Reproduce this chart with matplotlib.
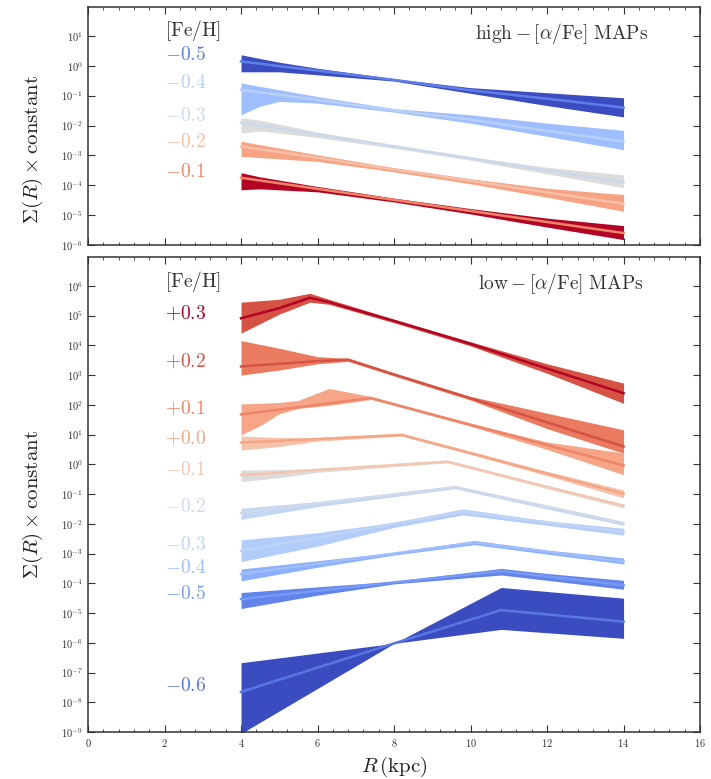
import numpy as np
import matplotlib
matplotlib.use("Agg")
import matplotlib.pyplot as plt
from matplotlib.ticker import AutoMinorLocator, FuncFormatter, MultipleLocator

plt.rcParams["mathtext.fontset"] = "cm"
plt.rcParams["axes.unicode_minus"] = False

# ---- high-[a/Fe] MAPs (log10 of surface density x constant) ----
high_feh = ["-0.5", "-0.4", "-0.3", "-0.2", "-0.1"]
high_R = [
    [4, 5, 6, 8, 10, 12, 14],
    [4, 4.5, 5, 6, 8, 10, 12, 14],
    [4, 4.5, 6, 8, 10, 12, 14],
    [4, 6, 8, 10, 12, 14],
    [4, 4.5, 6, 8, 10, 12, 14],
]
high_med = [
    [0.15, -0.01, -0.16, -0.47, -0.82, -1.10, -1.40],
    [-0.80, -0.89, -0.97, -1.14, -1.49, -1.80, -2.18, -2.53],
    [-1.90, -2.00, -2.30, -2.70, -3.10, -3.50, -3.90],
    [-2.70, -3.08, -3.47, -3.85, -4.24, -4.62],
    [-3.75, -3.84, -4.12, -4.49, -4.86, -5.23, -5.60],
]
high_hi = [
    [0.37, 0.12, -0.08, -0.43, -0.73, -0.90, -1.07],
    [-0.57, -0.69, -0.80, -1.03, -1.43, -1.64, -1.92, -2.16],
    [-1.74, -1.82, -2.22, -2.64, -3.04, -3.40, -3.65],
    [-2.53, -2.98, -3.41, -3.78, -4.10, -4.31],
    [-3.58, -3.72, -4.04, -4.43, -4.78, -5.10, -5.35],
]
high_lo = [
    [-0.20, -0.20, -0.30, -0.51, -0.92, -1.33, -1.71],
    [-1.64, -1.35, -1.19, -1.25, -1.55, -1.92, -2.36, -2.81],
    [-2.25, -2.18, -2.40, -2.76, -3.16, -3.62, -4.08],
    [-3.03, -3.20, -3.55, -3.95, -4.40, -4.87],
    [-4.15, -4.12, -4.22, -4.56, -4.96, -5.40, -5.82],
]
high_label_y = [0.37, -0.57, -1.67, -2.54, -3.55]

# ---- low-[a/Fe] MAPs ----
low_feh = ["+0.3", "+0.2", "+0.1", "+0.0", "-0.1", "-0.2", "-0.3", "-0.4", "-0.5", "-0.6"]
low_R = [
    [4, 5, 5.8, 6.3, 8, 10, 12, 14],
    [4, 5, 6, 6.8, 8, 10, 12, 14],
    [4, 4.5, 5, 5.5, 6.3, 7.4, 8, 10, 12, 14],
    [4, 5, 6, 8.2, 10, 12, 14],
    [4, 5, 6, 9.4, 12, 14],
    [4, 6, 9.6, 12, 14],
    [4, 6, 8, 9.8, 12, 14],
    [4, 6, 8, 10.1, 12, 14],
    [4, 6, 8, 10.8, 12, 14],
    [4, 8, 10.8, 14],
]
low_med = [
    [4.91, 5.25, 5.60, 5.45, 4.82, 4.05, 3.22, 2.39],
    [3.29, 3.38, 3.47, 3.52, 3.02, 2.22, 1.41, 0.60],
    [1.68, 1.76, 1.84, 1.92, 2.05, 2.23, 2.02, 1.33, 0.65, -0.04],
    [0.73, 0.79, 0.85, 0.99, 0.38, -0.31, -0.99],
    [-0.36, -0.28, -0.19, 0.09, -0.76, -1.39],
    [-1.63, -1.32, -0.77, -1.43, -1.98],
    [-2.91, -2.46, -2.00, -1.60, -1.95, -2.26],
    [-3.69, -3.34, -3.00, -2.63, -2.94, -3.27],
    [-4.53, -4.25, -3.97, -3.59, -3.77, -4.06],
    [-7.65, -6.02, -4.90, -5.29],
]
low_hi = [
    [5.45, 5.55, 5.75, 5.55, 4.88, 4.12, 3.38, 2.73],
    [4.16, 3.90, 3.62, 3.56, 3.07, 2.28, 1.72, 1.16],
    [2.03, 2.05, 2.08, 2.15, 2.55, 2.28, 2.06, 1.38, 0.75, 0.38],
    [0.95, 0.90, 0.90, 1.03, 0.43, -0.24, -0.86],
    [-0.19, -0.18, -0.13, 0.13, -0.71, -1.33],
    [-1.48, -1.25, -0.72, -1.37, -1.92],
    [-2.54, -2.30, -1.95, -1.50, -1.90, -2.15],
    [-3.52, -3.24, -2.96, -2.56, -2.88, -3.15],
    [-4.31, -4.12, -3.93, -3.50, -3.67, -3.90],
    [-6.67, -6.02, -5.55, -5.85],
]
low_lo = [
    [4.41, 5.05, 5.45, 5.38, 4.76, 3.98, 3.06, 2.05],
    [3.00, 3.17, 3.38, 3.46, 2.97, 2.16, 1.20, 0.37],
    [0.99, 1.30, 1.70, 1.88, 1.98, 2.18, 1.98, 1.28, 0.50, -0.35],
    [0.48, 0.60, 0.78, 0.95, 0.33, -0.38, -1.13],
    [-0.58, -0.45, -0.27, 0.05, -0.82, -1.47],
    [-1.85, -1.42, -0.82, -1.50, -2.05],
    [-3.27, -2.75, -2.12, -1.70, -2.05, -2.38],
    [-3.92, -3.46, -3.05, -2.70, -3.02, -3.35],
    [-4.85, -4.40, -4.02, -3.72, -3.90, -4.20],
    [-9.05, -6.02, -4.14, -4.50],
]
low_label_y = [5.10, 3.48, 1.90, 0.89, -0.19, -1.43, -2.71, -3.48, -4.33, -7.44]

# colours taken from the coolwarm map
cmap = plt.get_cmap("coolwarm")
high_band_c = [cmap(v) for v in [0.0, 0.3, 0.5, 0.73, 1.0]]
high_line_c = [cmap(v) for v in [0.12, 0.38, 0.44, 0.64, 0.8]]
low_band_c = [cmap(v) for v in [0.9, 0.82, 0.72, 0.63, 0.5, 0.41, 0.36, 0.25, 0.13, 0.0]]
low_line_c = [cmap(v) for v in [1.0, 0.9, 0.8, 0.72, 0.62, 0.45, 0.40, 0.30, 0.19, 0.1]]

fig = plt.figure(figsize=(7.11, 7.79), dpi=100)
ax1 = fig.add_axes([0.1238, 0.6855, 0.8608, 0.3051])
ax2 = fig.add_axes([0.1238, 0.0603, 0.8608, 0.6098])


def draw(ax, R, med, lo, hi, band_c, line_c, feh, label_y):
    for i in range(len(R)):
        r = np.array(R[i])
        ax.fill_between(r, 10 ** np.array(lo[i]), 10 ** np.array(hi[i]),
                        color=band_c[i], lw=0, zorder=2)
        ax.plot(r, 10 ** np.array(med[i]), color=line_c[i], lw=1.8, zorder=3)
        ax.text(2.0, 10 ** label_y[i], "$" + feh[i] + "$", color=line_c[i],
                fontsize=14, va="center", ha="left")


draw(ax1, high_R, high_med, high_lo, high_hi, high_band_c, high_line_c, high_feh, high_label_y)
draw(ax2, low_R, low_med, low_lo, low_hi, low_band_c, low_line_c, low_feh, low_label_y)

ax1.set_ylim(1e-6, 10 ** 1.96)
ax2.set_ylim(1e-9, 10 ** 6.97)

fmt = FuncFormatter(lambda v, p: r"$10^{%d}$" % int(round(np.log10(v))))
for ax in [ax1, ax2]:
    ax.set_yscale("log")
    ax.set_xlim(0, 16)
    ax.xaxis.set_major_locator(MultipleLocator(2))
    ax.xaxis.set_minor_locator(AutoMinorLocator(5))
    ax.yaxis.set_major_locator(plt.FixedLocator(10.0 ** np.arange(-9, 7)))
    ax.yaxis.set_major_formatter(fmt)
    ax.yaxis.set_minor_locator(plt.NullLocator())
    ax.tick_params(which="both", direction="in", top=True, right=True, labelsize=7.5, colors="#333333")
    ax.tick_params(which="major", length=5)
    ax.tick_params(which="minor", length=2.5)
    for s in ax.spines.values():
        s.set_color("#333333")
        s.set_linewidth(1.1)
    ax.set_ylabel(r"$\Sigma(R)\times\mathrm{constant}$", fontsize=15, color="#222222")

ax1.yaxis.set_major_locator(plt.FixedLocator(10.0 ** np.arange(-6, 2)))
ax1.tick_params(labelbottom=False)
ax1.yaxis.set_label_coords(-0.07, 0.40)
ax2.yaxis.set_label_coords(-0.07, 0.478)
ax2.xaxis.set_major_formatter(FuncFormatter(lambda v, p: r"$%d$" % v))
ax2.set_xlabel(r"$R\,(\mathrm{kpc})$", fontsize=15, color="#222222")

ax1.text(2.0, 10 ** 1.2, r"$[\mathrm{Fe/H}]$", fontsize=14, color="#333333", va="center")
ax2.text(2.0, 10 ** 6.14, r"$[\mathrm{Fe/H}]$", fontsize=14, color="#333333", va="center")
ax1.text(0.915, 0.89, r"$\mathrm{high}-[\alpha/\mathrm{Fe}]\ \mathrm{MAPs}$", transform=ax1.transAxes,
         fontsize=14, color="#333333", ha="right", va="center")
ax2.text(0.908, 0.945, r"$\mathrm{low}-[\alpha/\mathrm{Fe}]\ \mathrm{MAPs}$", transform=ax2.transAxes,
         fontsize=14, color="#333333", ha="right", va="center")

fig.savefig("out.png", dpi=100)
